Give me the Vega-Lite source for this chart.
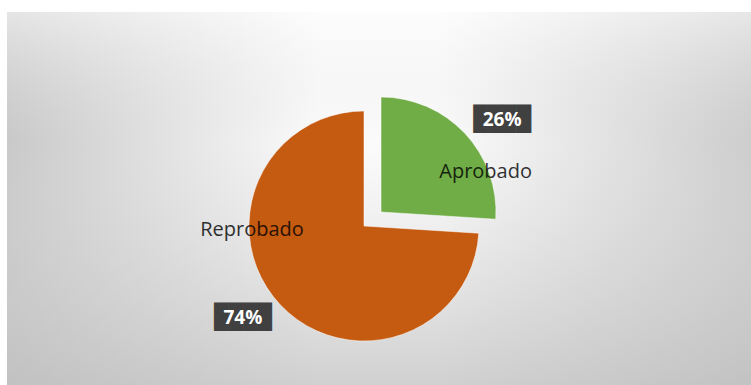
{
  "$schema": "https://vega.github.io/schema/vega-lite/v6.json",
  "width": 751,
  "height": 385,
  "autosize": {"type": "fit", "contains": "padding"},
  "padding": {"left": 7, "top": 12, "right": 0, "bottom": 0},
  "background": "#ffffff",
  "config": {"view": {"stroke": "#d6d6d6", "strokeWidth": 1}},
  "data": {
    "values": [
      {"cat": "Aprobado", "value": 0.26},
      {"cat": "Reprobado", "value": 0.74}
    ]
  },
  "layer": [
    {
      "mark": {
        "type": "rect",
        "fill": {
          "gradient": "linear",
          "x1": 0, "y1": 0, "x2": 1, "y2": 0,
          "stops": [
            {"offset": 0, "color": "#c9c9c9"},
            {"offset": 0.42, "color": "#fbfbfb"},
            {"offset": 0.58, "color": "#fbfbfb"},
            {"offset": 1, "color": "#cdcdcd"}
          ]
        }
      },
      "encoding": {}
    },
    {
      "mark": {
        "type": "rect",
        "fill": {
          "gradient": "linear",
          "x1": 0, "y1": 0, "x2": 0, "y2": 1,
          "stops": [
            {"offset": 0, "color": "rgba(255,255,255,0.3)"},
            {"offset": 0.35, "color": "rgba(220,220,220,0)"},
            {"offset": 1, "color": "rgba(190,190,190,0.45)"}
          ]
        }
      },
      "encoding": {}
    },
    {
      "encoding": {
        "theta": {"field": "value", "type": "quantitative", "stack": true},
        "order": {"field": "cat", "type": "ordinal"}
      },
      "layer": [
        {
          "mark": {
            "type": "arc",
            "outerRadius": 115,
            "x": {"expr": "width/2 - 15"},
            "y": {"expr": "height/2 + 27.5"},
            "stroke": "#ffffff",
            "strokeWidth": 1,
            "strokeOpacity": 0.5
          },
          "encoding": {
            "color": {
              "field": "cat",
              "type": "nominal",
              "scale": {"domain": ["Aprobado", "Reprobado"], "range": ["#70AD47", "#C55A11"]},
              "legend": null
            },
            "opacity": {"condition": {"test": "datum.cat === 'Aprobado'", "value": 0}, "value": 1}
          }
        },
        {
          "mark": {
            "type": "arc",
            "outerRadius": 115,
            "x": {"expr": "width/2 + 2"},
            "y": {"expr": "height/2 + 13.5"},
            "stroke": "#ffffff",
            "strokeWidth": 1,
            "strokeOpacity": 0.5
          },
          "encoding": {
            "color": {
              "field": "cat",
              "type": "nominal",
              "scale": {"domain": ["Aprobado", "Reprobado"], "range": ["#70AD47", "#C55A11"]},
              "legend": null
            },
            "opacity": {"condition": {"test": "datum.cat === 'Aprobado'", "value": 1}, "value": 0}
          }
        },
        {
          "mark": {
            "type": "text",
            "font": "DejaVu Sans Mono",
            "fontSize": 24,
            "color": "#404040",
            "align": "center",
            "baseline": "middle",
            "radius": 152,
            "thetaOffset": 0.105,
            "x": {"expr": "width/2 + 2"},
            "y": {"expr": "height/2 + 13.5"}
          },
          "encoding": {
            "detail": {"field": "cat"},
            "text": {"condition": {"test": "datum.cat === 'Aprobado'", "value": "████"}, "value": ""}
          }
        },
        {
          "mark": {
            "type": "text",
            "font": "DejaVu Sans Mono",
            "fontSize": 24,
            "color": "#404040",
            "align": "center",
            "baseline": "middle",
            "radius": 152,
            "thetaOffset": 0.105,
            "x": {"expr": "width/2 - 15"},
            "y": {"expr": "height/2 + 27.5"}
          },
          "encoding": {
            "detail": {"field": "cat"},
            "text": {"condition": {"test": "datum.cat === 'Reprobado'", "value": "████"}, "value": ""}
          }
        },
        {
          "mark": {
            "type": "text",
            "font": "Open Sans",
            "fontWeight": "bold",
            "fontSize": 19,
            "color": "#ffffff",
            "align": "center",
            "baseline": "middle",
            "radius": 152,
            "thetaOffset": 0.105,
            "x": {"expr": "width/2 + 2"},
            "y": {"expr": "height/2 + 13.5"}
          },
          "encoding": {
            "detail": {"field": "cat"},
            "text": {"condition": {"test": "datum.cat === 'Aprobado'", "field": "value", "format": ".0%"}, "value": ""}
          }
        },
        {
          "mark": {
            "type": "text",
            "font": "Open Sans",
            "fontWeight": "bold",
            "fontSize": 19,
            "color": "#ffffff",
            "align": "center",
            "baseline": "middle",
            "radius": 152,
            "thetaOffset": 0.105,
            "x": {"expr": "width/2 - 15"},
            "y": {"expr": "height/2 + 27.5"}
          },
          "encoding": {
            "detail": {"field": "cat"},
            "text": {"condition": {"test": "datum.cat === 'Reprobado'", "field": "value", "format": ".0%"}, "value": ""}
          }
        },
        {
          "mark": {
            "type": "text",
            "font": "Open Sans",
            "fontSize": 20,
            "color": "#000000",
            "opacity": 0.8,
            "align": "center",
            "baseline": "middle",
            "radius": 112,
            "thetaOffset": 0.389,
            "x": {"expr": "width/2 + 2"},
            "y": {"expr": "height/2 + 13.5"}
          },
          "encoding": {
            "detail": {"field": "cat"},
            "text": {"condition": {"test": "datum.cat === 'Aprobado'", "field": "cat"}, "value": ""}
          }
        },
        {
          "mark": {
            "type": "text",
            "font": "Open Sans",
            "fontSize": 20,
            "color": "#000000",
            "opacity": 0.8,
            "align": "center",
            "baseline": "middle",
            "radius": 112,
            "thetaOffset": 0.719,
            "x": {"expr": "width/2 - 15"},
            "y": {"expr": "height/2 + 27.5"}
          },
          "encoding": {
            "detail": {"field": "cat"},
            "text": {"condition": {"test": "datum.cat === 'Reprobado'", "field": "cat"}, "value": ""}
          }
        }
      ]
    }
  ]
}
